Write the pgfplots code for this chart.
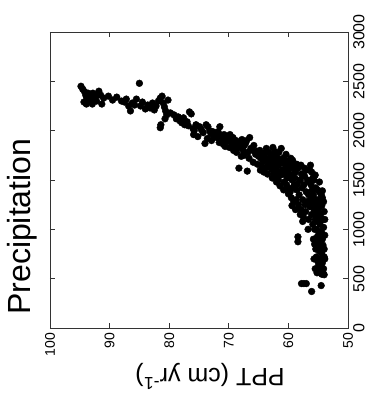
\documentclass[border=0pt]{standalone}
\usepackage{pgfplots}
\pgfplotsset{compat=1.18}
\usepackage{fontspec}
\setmainfont{Liberation Sans}
\begin{document}
\begin{tikzpicture}
\path[use as bounding box] (-50pt,-73pt) rectangle (330pt,328pt);
\begin{axis}[
  at={(0,0)}, anchor=south west,
  scale only axis, width=298pt, height=296pt,
  xmin=50, xmax=100, x dir=reverse,
  ymin=0, ymax=3000,
  xtick={50,60,70,80,90,100},
  ytick={0,500,1000,1500,2000,2500,3000},
  /pgf/number format/assume math mode=true,
  /pgf/number format/1000 sep={},
  tick pos=both, tick align=inside,
  major tick length=5pt,
  xticklabel pos=bottom, yticklabel pos=right,
  axis line style={black!80, line width=0.8pt},
  tick style={black!80, line width=0.8pt},
  xticklabel style={rotate=90, anchor=east, inner xsep=5pt, inner ysep=0pt, font=\fontsize{14}{14}\selectfont},
  yticklabel style={rotate=90, anchor=north, inner ysep=5pt, inner xsep=0pt, font=\fontsize{16}{16}\selectfont},
  xlabel={PPT (cm yr\textsuperscript{-1})},
  xlabel style={at={(axis description cs:0.537,-0.165)}, anchor=center, rotate=180, font=\fontsize{25}{25}\selectfont},
  title={Precipitation},
  title style={at={(axis description cs:-0.067,0.024)}, anchor=base west, rotate=90, inner sep=0pt, font=\fontsize{32}{32}\selectfont},
  clip=false,
]
\addplot[only marks, mark=*, mark size=3.4pt, mark options={fill=black, draw=black}] table {
u v
94.8 2450
94.5 2420
94.2 2395
94.0 2360
93.8 2330
93.5 2300
93.9 2270
93.3 2340
93.0 2310
92.8 2380
92.5 2350
92.2 2300
91.8 2400
91.5 2360
91.3 2270
91.0 2330
90.2 2350
89.5 2310
88.8 2340
88.0 2300
87.5 2290
87.2 2320
86.8 2250
86.5 2200
86.2 2280
85.8 2260
85.5 2320
85.0 2480
84.8 2250
84.5 2290
84.0 2220
83.6 2260
83.2 2230
82.8 2280
82.5 2210
82.2 2250
81.8 2300
81.5 2330
81.2 2350
81.0 2280
80.8 2240
80.6 2200
80.4 2160
80.7 2120
81.4 2060
81.5 2030
80.2 2310
79.8 2180
79.2 2160
78.8 2120
78.5 2140
78.2 2100
77.9 2080
77.6 2130
77.4 2060
77.0 2090
76.8 2050
76.6 2190
76.3 2170
76.0 2020
75.8 2000
75.5 2060
75.9 1960
75.2 1940
74.9 2040
74.6 2010
74.3 1980
74.0 1870
73.8 2060
73.5 2040
73.2 2000
73.0 1970
72.7 1990
72.5 1940
72.2 1960
72.0 1930
71.8 1990
71.5 2040
71.3 1950
71.0 1910
70.8 1960
70.5 1890
70.3 1930
70.0 1900
69.8 1960
69.5 1870
69.3 1930
69.0 1850
68.8 1900
68.5 1880
68.3 1830
68.0 1860
67.8 1910
67.6 1800
67.4 1850
67.2 1870
67.0 1900
66.8 1780
66.5 1930
66.3 1820
66.0 1800
65.8 1850
65.5 1760
65.3 1790
65.0 1740
68.3 1620
66.9 1590
67.5 1750
69.2 1800
70.6 1840
64.8 1800
64.6 1720
64.4 1760
64.2 1690
64.0 1740
63.8 1780
63.6 1700
63.4 1650
63.2 1720
63.0 1680
62.8 1750
62.6 1700
62.4 1640
62.2 1670
62.0 1600
61.8 1720
61.6 1650
61.4 1690
61.2 1820
61.0 1600
60.8 1560
60.6 1660
60.4 1620
60.2 1520
60.0 1580
64.5 1650
63.9 1620
63.3 1780
62.9 1610
62.5 1560
62.1 1740
61.9 1530
61.5 1580
61.1 1680
60.7 1480
60.5 1700
60.3 1450
60.1 1640
63.7 1820
62.3 1790
61.7 1500
61.3 1550
60.9 1720
60.2 1420
59.8 1620
59.6 1550
59.4 1500
59.2 1650
59.0 1450
58.8 1580
58.6 1400
58.4 1620
58.2 1350
58.0 1500
57.8 1560
57.6 1300
57.4 1450
57.2 1250
57.0 1600
57.0 1380
56.8 1500
56.6 1350
59.7 1380
59.5 1320
59.3 1420
59.1 1280
58.9 1520
58.7 1300
58.5 1460
58.3 1250
58.1 1640
57.9 1200
57.7 1420
57.5 1130
57.3 1540
57.1 1180
56.9 1280
58.4 924
58.4 874
56.4 1230
56.4 1600
56.2 1450
56.0 1400
55.8 1350
55.6 1300
55.4 1420
55.2 1250
55.0 1200
54.8 1380
54.6 1150
54.4 1240
54.2 1100
54.0 1180
56.1 1150
55.9 1050
55.7 1200
55.5 1100
55.3 1000
55.1 1080
54.9 950
54.7 1050
54.5 980
54.3 900
54.1 1020
53.9 940
55.8 900
55.6 850
55.4 800
55.2 920
55.0 860
54.8 780
54.6 820
54.4 760
54.2 840
54.0 800
53.9 700
55.3 720
55.1 680
54.9 640
54.7 700
54.5 620
54.3 660
54.1 600
54.0 720
54.8 580
54.6 560
54.4 545
54.2 560
55.0 600
55.2 560
54.0 540
53.9 1100
54.1 1280
54.3 1320
54.5 1350
54.7 1250
54.9 1300
55.1 1400
54.3 1390
56.6 1100
56.3 1300
56.7 1000
55.7 1500
55.9 1520
56.1 1580
56.3 1650
57.8 450
57.0 450
56.1 370
54.5 430
57.4 450
94.3 2290
93.6 2380
92.9 2270
92.0 2360
73.6 1920
72.9 1900
71.6 1880
70.9 1860
69.9 1830
68.7 1780
67.9 1740
66.6 1720
65.9 1680
65.2 1660
64.7 1600
64.1 1580
63.5 1560
62.7 1520
62.0 1480
61.4 1440
60.8 1400
60.0 1360
59.4 1240
58.8 1200
58.0 1150
57.6 1080
59.9 1680
59.3 1700
58.6 1660
57.9 1650
57.3 1620
62.6 1830
61.6 1780
60.4 1760
59.6 1720
58.9 1600
56.5 1480
56.0 1250
55.6 1000
55.4 1150
54.9 1100
54.5 1100
55.7 700
55.5 600
54.6 900
55.3 1300
54.8 1480
55.5 1550
};
\end{axis}
\end{tikzpicture}
\end{document}
